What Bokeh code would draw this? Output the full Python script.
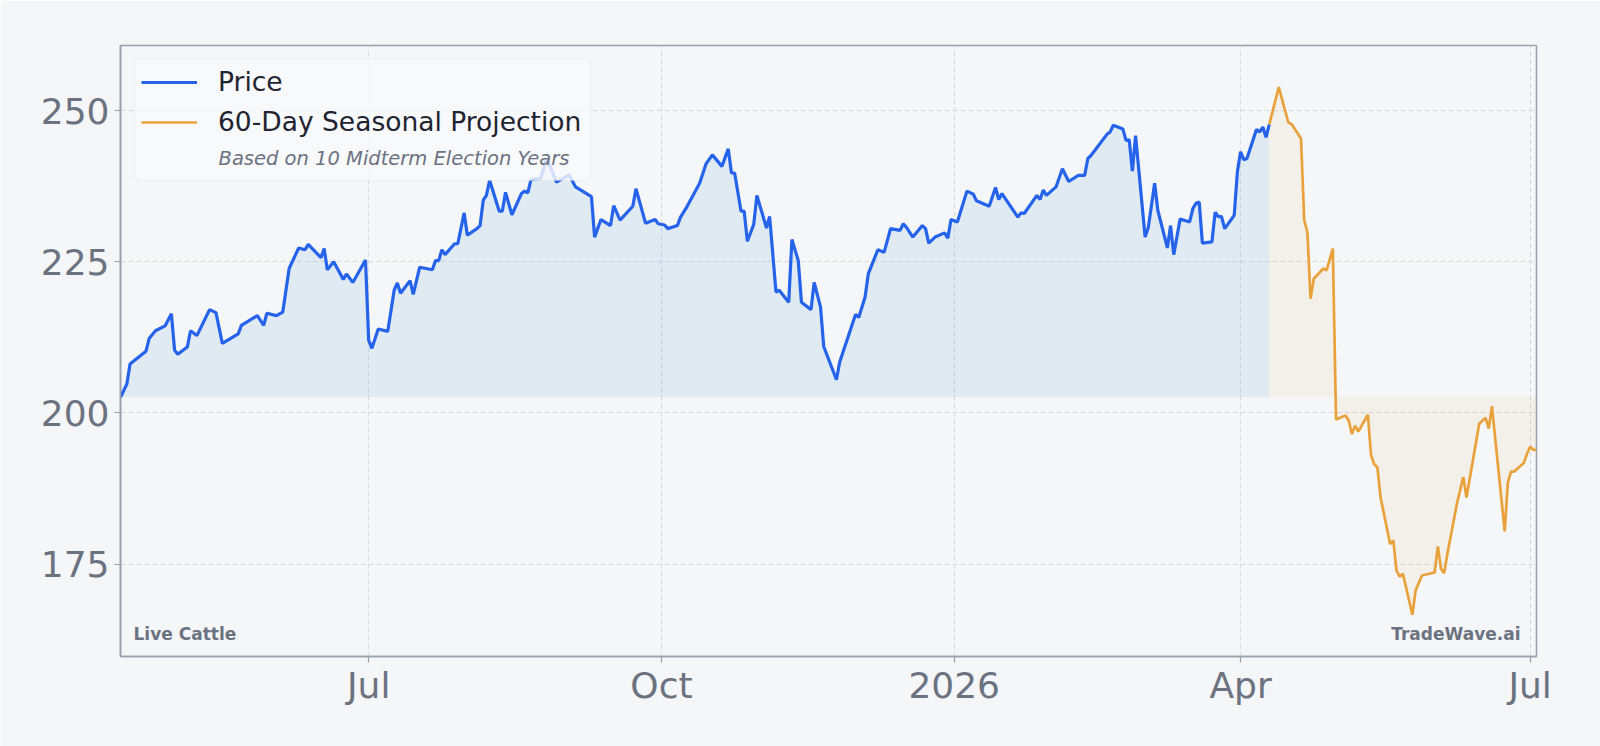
import pandas as pd
from bokeh.plotting import figure
from bokeh.models import (Range1d, FixedTicker, Legend, LegendItem, Label,
                          BoxAnnotation)
from bokeh.embed import file_html
from bokeh.resources import INLINE

# ---------------- data ----------------
price_dates = [
    "2025-04-14", "2025-04-16", "2025-04-17", "2025-04-22", "2025-04-23", "2025-04-25", "2025-04-28", "2025-04-30",
    "2025-05-01", "2025-05-02", "2025-05-05", "2025-05-06", "2025-05-08", "2025-05-12", "2025-05-14", "2025-05-16",
    "2025-05-21", "2025-05-22", "2025-05-27", "2025-05-29", "2025-05-30",
    "2025-06-02", "2025-06-04", "2025-06-06", "2025-06-09", "2025-06-11", "2025-06-12", "2025-06-16", "2025-06-17",
    "2025-06-18", "2025-06-20", "2025-06-23", "2025-06-24", "2025-06-26", "2025-06-27", "2025-06-30",
    "2025-07-01", "2025-07-02", "2025-07-04", "2025-07-07", "2025-07-09", "2025-07-10", "2025-07-11", "2025-07-14",
    "2025-07-15", "2025-07-17", "2025-07-21", "2025-07-22", "2025-07-23", "2025-07-24", "2025-07-25", "2025-07-28",
    "2025-07-29", "2025-07-31",
    "2025-08-01", "2025-08-04", "2025-08-05", "2025-08-06", "2025-08-07", "2025-08-08", "2025-08-11", "2025-08-12",
    "2025-08-13", "2025-08-15", "2025-08-18", "2025-08-19", "2025-08-20", "2025-08-21", "2025-08-24", "2025-08-26",
    "2025-08-29",
    "2025-09-02", "2025-09-04", "2025-09-09", "2025-09-10", "2025-09-12", "2025-09-15", "2025-09-16", "2025-09-18",
    "2025-09-22", "2025-09-23", "2025-09-26", "2025-09-29", "2025-09-30",
    "2025-10-02", "2025-10-03", "2025-10-06", "2025-10-07", "2025-10-09", "2025-10-13", "2025-10-15", "2025-10-17",
    "2025-10-20", "2025-10-22", "2025-10-23", "2025-10-24", "2025-10-26", "2025-10-27", "2025-10-28", "2025-10-30",
    "2025-10-31",
    "2025-11-03", "2025-11-04", "2025-11-06", "2025-11-07", "2025-11-10", "2025-11-11", "2025-11-13", "2025-11-14",
    "2025-11-17", "2025-11-18", "2025-11-20", "2025-11-21", "2025-11-25", "2025-11-26",
    "2025-12-01", "2025-12-02", "2025-12-04", "2025-12-05", "2025-12-08", "2025-12-10", "2025-12-12", "2025-12-15",
    "2025-12-16", "2025-12-17", "2025-12-19", "2025-12-22", "2025-12-23", "2025-12-24", "2025-12-26", "2025-12-29",
    "2025-12-30", "2025-12-31",
    "2026-01-02", "2026-01-05", "2026-01-07", "2026-01-08", "2026-01-12", "2026-01-14", "2026-01-15", "2026-01-16",
    "2026-01-21", "2026-01-22", "2026-01-23", "2026-01-27", "2026-01-28", "2026-01-29", "2026-01-30",
    "2026-02-02", "2026-02-04", "2026-02-06", "2026-02-09", "2026-02-11", "2026-02-12", "2026-02-13", "2026-02-18",
    "2026-02-19", "2026-02-20", "2026-02-23", "2026-02-24", "2026-02-25", "2026-02-26", "2026-02-27",
    "2026-03-02", "2026-03-03", "2026-03-05", "2026-03-06", "2026-03-09", "2026-03-10", "2026-03-11", "2026-03-13",
    "2026-03-16", "2026-03-17", "2026-03-18", "2026-03-19", "2026-03-20", "2026-03-23", "2026-03-24", "2026-03-25",
    "2026-03-26", "2026-03-27", "2026-03-30", "2026-03-31",
    "2026-04-01", "2026-04-02", "2026-04-03", "2026-04-06", "2026-04-07", "2026-04-08", "2026-04-09", "2026-04-10",
]
price_values = [
    202.6, 204.8, 208.1, 210.2, 212.3, 213.6, 214.4, 216.4,
    210.4, 209.7, 210.9, 213.6, 212.8, 217.1, 216.6, 211.5, 213.1, 214.5, 216.1, 214.5, 216.5,
    216.1, 216.7, 223.9, 227.3, 227.0, 227.9, 225.7, 227.2, 223.7, 225.0, 222.1, 223.0, 221.6, 222.5, 225.3,
    212.0, 210.7, 213.9, 213.5, 220.3, 221.5, 219.8, 221.9, 219.6, 224.1, 223.7, 225.2, 225.2, 227.0, 226.2,
    228.0, 228.0, 233.1,
    229.4, 230.5, 231.0, 235.2, 236.0, 238.5, 233.4, 233.4, 236.5, 232.8, 236.3, 236.7, 236.4, 238.6, 238.8,
    242.1, 238.2,
    239.4, 237.4, 235.8, 229.1, 232.0, 231.0, 234.3, 231.9, 234.2, 237.1, 231.4, 232.0, 231.3,
    231.1, 230.5, 231.0, 232.4, 234.1, 238.0, 241.2, 242.7, 240.8, 243.7, 239.7, 239.7, 233.4, 233.4, 228.4,
    231.2, 236.0,
    230.6, 232.5, 220.0, 220.3, 218.3, 228.7, 225.2, 218.3, 217.1, 221.6, 217.5, 211.0, 205.5, 208.4,
    216.3, 215.8, 219.2, 223.0, 227.0, 226.6, 230.5, 230.2, 231.3, 230.7, 229.1, 231.0, 230.5, 228.1, 229.1,
    229.8, 228.9, 232.0,
    231.6, 236.7, 236.2, 235.1, 234.2, 237.3, 235.3, 236.3, 232.4, 233.1, 233.0, 236.0, 235.3, 236.9, 236.0,
    237.4, 240.4, 238.3, 239.3, 239.3, 242.1, 242.6, 246.1, 246.5, 247.6, 247.0, 245.1, 245.2, 240.0, 245.9,
    229.1, 230.7, 238.0, 233.5, 227.3, 231.0, 226.2, 232.1, 231.6, 233.8, 234.7, 234.9, 228.1, 228.3, 233.2,
    232.5, 232.5, 230.5, 232.7, 239.9,
    243.2, 241.9, 242.1, 246.9, 246.5, 247.3, 245.6, 247.7,
]

proj_dates = [
    "2026-04-10", "2026-04-13", "2026-04-16", "2026-04-17", "2026-04-20", "2026-04-21", "2026-04-22", "2026-04-23",
    "2026-04-24", "2026-04-27", "2026-04-28", "2026-04-30",
    "2026-05-01", "2026-05-04", "2026-05-05", "2026-05-06", "2026-05-07", "2026-05-08", "2026-05-11", "2026-05-12",
    "2026-05-13", "2026-05-14", "2026-05-15", "2026-05-18", "2026-05-19", "2026-05-20", "2026-05-21", "2026-05-22",
    "2026-05-25", "2026-05-26", "2026-05-28",
    "2026-06-01", "2026-06-02", "2026-06-03", "2026-06-04", "2026-06-05", "2026-06-08", "2026-06-10", "2026-06-11",
    "2026-06-15", "2026-06-17", "2026-06-18", "2026-06-19", "2026-06-23", "2026-06-24", "2026-06-25", "2026-06-26",
    "2026-06-29", "2026-06-30",
    "2026-07-01", "2026-07-02", "2026-07-03",
]
proj_values = [
    247.7, 253.9, 248.1, 247.8, 245.4, 231.9, 229.9, 218.9, 222.2, 223.9, 223.6, 227.2,
    198.9, 199.6, 198.7, 196.5, 197.9, 196.9, 199.7, 193.0, 191.5, 191.0, 186.0, 178.3, 178.9, 173.9, 172.9,
    173.4, 166.6, 170.6, 173.1,
    173.6, 177.9, 174.2, 173.5, 176.7, 185.0, 189.4, 186.0, 198.2, 199.2, 197.4, 201.1, 180.4, 188.5, 190.3,
    190.3, 191.7, 193.2,
    194.4, 193.9, 193.9,
]

tick_dates = ["2025-07-01", "2025-10-01", "2026-01-01", "2026-04-01", "2026-07-01"]
tick_labels = ["Jul", "Oct", "2026", "Apr", "Jul"]
y_ticks = [175, 200, 225, 250]
y_lo, y_hi = 159.7, 260.8

series_names = ["Price", "60-Day Seasonal Projection"]
legend_note = "Based on 10 Midterm Election Years"
corner_left = "Live Cattle"
corner_right = "TradeWave.ai"

# ---------------- styling ----------------
BG = "#f5f6f8"
BLUE = "#2563eb"
BLUE_FILL = "#4a90d9"
ORANGE = "#e9a23b"
GRAY_TXT = "#6b7280"
FRAME = "#9aa1ad"
GRID = "#d6dae0"
FONT = "DejaVu Sans"

px = pd.to_datetime(price_dates)
jx = pd.to_datetime(proj_dates)
base = min(price_values)

p = figure(width=1600, height=746, x_axis_type="datetime",
           output_backend="svg", toolbar_location=None,
           x_range=Range1d(px.min().to_pydatetime(), jx.max().to_pydatetime()),
           y_range=Range1d(y_lo, y_hi),
           min_border_left=120, min_border_right=64,
           min_border_top=45, min_border_bottom=90,
           background_fill_color=BG, border_fill_color=BG,
           outline_line_color=FRAME, outline_line_width=1.6)

# fills
p.varea(x=px, y1=base, y2=price_values, fill_color=BLUE_FILL, fill_alpha=0.12)
p.varea(x=jx, y1=base, y2=proj_values, fill_color=ORANGE, fill_alpha=0.08)

# lines
r_proj = p.line(jx, proj_values, line_color=ORANGE, line_width=2.7)
r_price = p.line(px, price_values, line_color=BLUE, line_width=3.2)

# axes
tick_ms = [pd.Timestamp(d).value / 1e6 for d in tick_dates]
p.xaxis.ticker = FixedTicker(ticks=tick_ms)
p.xaxis.major_label_overrides = {t: l for t, l in zip(tick_ms, tick_labels)}
p.yaxis.ticker = FixedTicker(ticks=y_ticks)

for ax in (p.xaxis[0], p.yaxis[0]):
    ax.axis_line_color = FRAME
    ax.axis_line_width = 1.6
    ax.major_tick_line_color = FRAME
    ax.major_tick_line_width = 1.2
    ax.major_tick_out = 6
    ax.major_tick_in = 0
    ax.minor_tick_out = 0
    ax.minor_tick_in = 0
    ax.major_label_text_color = GRAY_TXT
    ax.major_label_text_font = FONT
    ax.major_label_text_font_size = "36px"
p.yaxis.major_label_standoff = 5
p.xaxis.major_label_standoff = 2

for g in (p.xgrid[0], p.ygrid[0]):
    g.grid_line_color = GRID
    g.grid_line_dash = "5 3"
    g.grid_line_width = 1.1

# legend box (drawn behind legend entries)
box = BoxAnnotation(left=14, right=470, top=598, bottom=476,
                    left_units="screen", right_units="screen",
                    top_units="screen", bottom_units="screen",
                    fill_color="#f8f9fb", fill_alpha=0.82,
                    line_color="#d5d9df", line_width=1.2, border_radius=5)
p.add_layout(box)

legend = Legend(items=[LegendItem(label=series_names[0], renderers=[r_price]),
                       LegendItem(label=series_names[1], renderers=[r_proj])],
                location="top_left", margin=13, padding=8, spacing=9,
                glyph_width=56, glyph_height=30, label_standoff=21,
                label_text_font=FONT, label_text_font_size="26.5px",
                label_text_color="#1f2430",
                background_fill_alpha=0, border_line_alpha=0)
legend.margin = 13
p.add_layout(legend)

p.add_layout(Label(x=98, y=498, x_units="screen", y_units="screen",
                   text=legend_note, text_font=FONT, text_font_size="19.5px",
                   text_font_style="italic", text_color=GRAY_TXT,
                   text_baseline="alphabetic"))

p.add_layout(Label(x=13, y=23, x_units="screen", y_units="screen",
                   text=corner_left, text_font=FONT, text_font_size="17px",
                   text_font_style="bold", text_color=GRAY_TXT,
                   text_baseline="alphabetic"))
p.add_layout(Label(x=1400, y=23, x_units="screen", y_units="screen",
                   text=corner_right, text_font=FONT, text_font_size="17px",
                   text_font_style="bold", text_color=GRAY_TXT,
                   text_align="right", text_baseline="alphabetic"))

open("out.html", "w").write(file_html(p, INLINE))
